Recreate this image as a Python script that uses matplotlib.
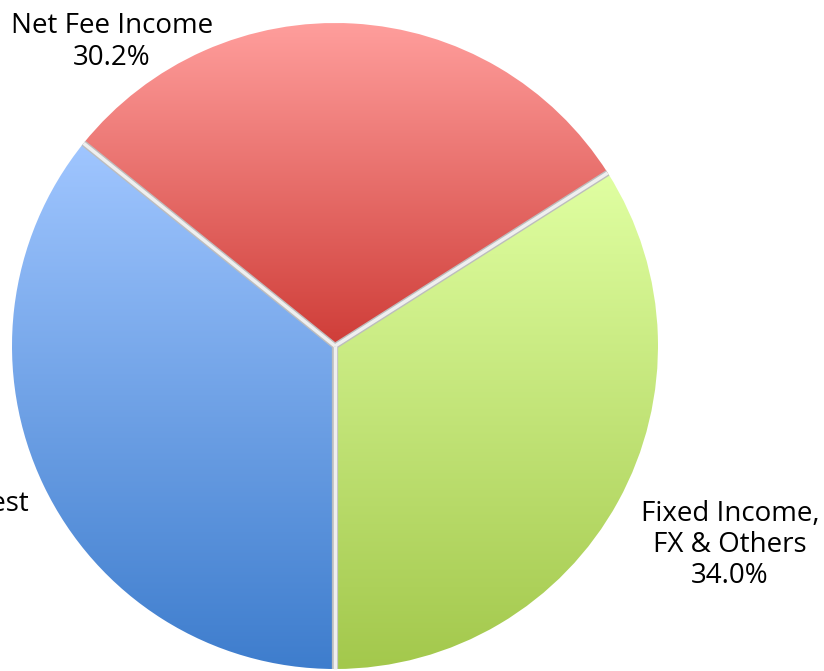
import numpy as np
import matplotlib.pyplot as plt
from matplotlib.colors import LinearSegmentedColormap

plt.rcParams['font.family'] = ['Open Sans', 'DejaVu Sans']

# slices, counter-clockwise starting from the bottom
labels = ["Fixed Income,\nFX & Others\n34.0%", "Net Fee Income\n30.2%", "Net Interest\n35.8%"]
values = [34.0, 30.2, 35.8]
top_colors = ["#e0ffa2", "#ff9e9c", "#a0c6ff"]
bottom_colors = ["#a3c84c", "#cf3d38", "#3e7dcd"]

W, H = 824, 671
fig = plt.figure(figsize=(W / 100, H / 100), dpi=100)
ax = fig.add_axes([0, 0, 1, 1])

cx, cy, r = 335, H - 346, 323
wedges, _ = ax.pie(values, startangle=-90, counterclock=True, center=(cx, cy),
                   radius=r, frame=True, wedgeprops=dict(linewidth=0))
ax.set_xlim(0, W)
ax.set_ylim(0, H)
ax.set_aspect('equal')
ax.axis('off')

# vertical gradient inside each wedge
for w, c0, c1 in zip(wedges, top_colors, bottom_colors):
    bb = w.get_path().get_extents(w.get_patch_transform())
    cmap = LinearSegmentedColormap.from_list('g', [c1, c0])
    grad = np.linspace(0, 1, 256).reshape(-1, 1)
    im = ax.imshow(grad, cmap=cmap, origin='lower', aspect='auto',
                   extent=[bb.x0, bb.x1, bb.y0, bb.y1], zorder=1)
    im.set_clip_path(w)
    w.set_facecolor('none')

# light separators between slices (with a soft grey shadow)
for w in wedges:
    a = np.deg2rad(w.theta1)
    xs = [cx, cx + r * np.cos(a)]
    ys = [cy, cy + r * np.sin(a)]
    ax.plot(xs, ys, color='#bdbdbd', lw=4.5, zorder=2, solid_capstyle='butt')
    ax.plot(xs, ys, color='#efefef', lw=2.5, zorder=3, solid_capstyle='butt')

# labels
ax.text(112, H - 42, labels[1], ha='center', va='center', fontsize=20, linespacing=1.15)
ax.text(730, H - 545, labels[0], ha='center', va='center', fontsize=20, linespacing=1.15)
ax.text(-48, H - 520, labels[2], ha='center', va='center', fontsize=20, linespacing=1.15)

ax.set_xlim(0, W)
ax.set_ylim(0, H)
fig.savefig('out.png', dpi=100)
